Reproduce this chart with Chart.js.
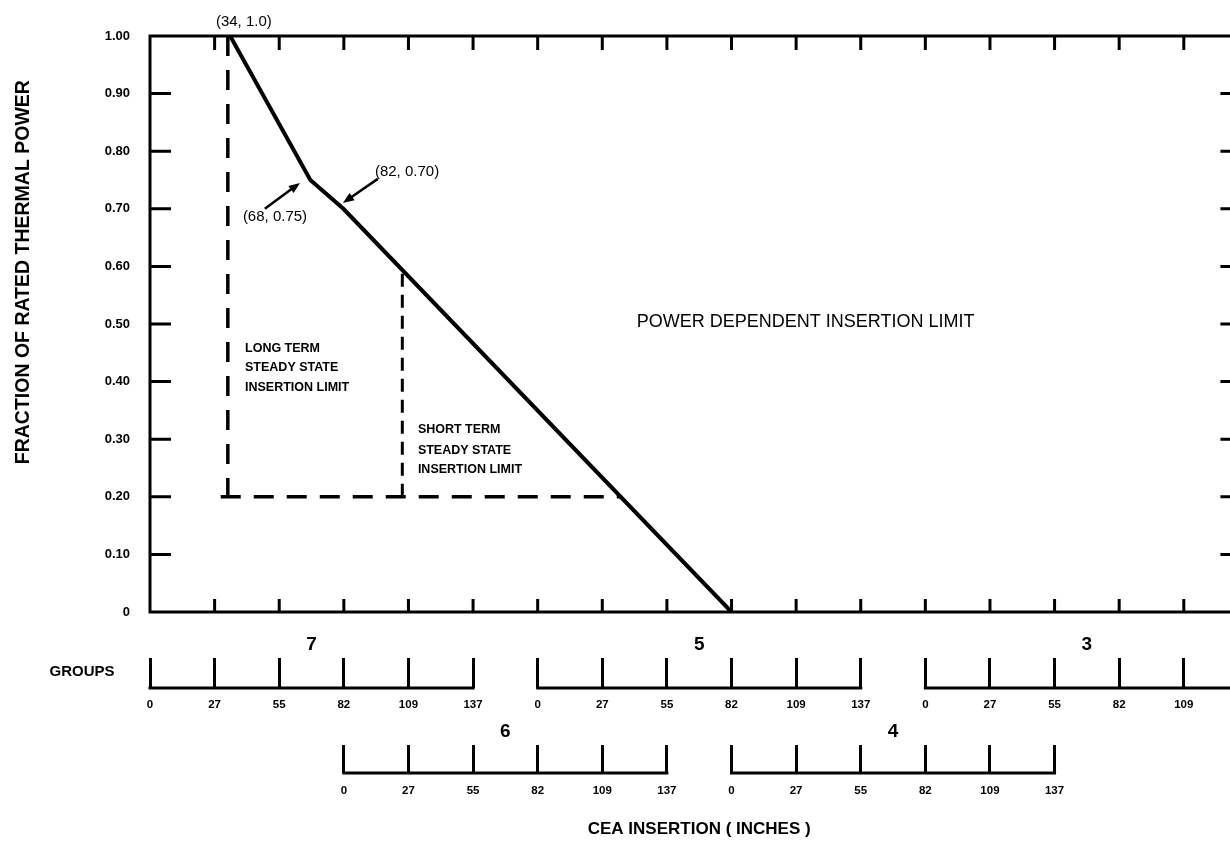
<!DOCTYPE html>
<html>
<head>
<meta charset="utf-8">
<script src="https://cdn.jsdelivr.net/npm/chart.js@4.4.1/dist/chart.umd.min.js"></script>
<style>
    html, body { margin: 0; padding: 0; background: #fff; overflow: hidden; }
    #wrap { width: 1268px; height: 848px; }
</style>
</head>
<body>
<div id="wrap"><canvas id="pdilChart"></canvas></div>
<script>
// Power dependent insertion limit, x in group 7 inches
const pdilX = [34, 68, 82, 246.6];
const pdilY = [1.0, 0.75, 0.70, 0];

// Long term steady state insertion limit (vertical dashed)
const longTermX = [33, 33];
const longTermY = [1.0, 0.2];

// Short term steady state insertion limit (vertical dashed)
const shortTermX = [107, 107];
const shortTermY = [0.2, 0.594];

// 20% power line (horizontal dashed)
const floorX = [30, 199.6];
const floorY = [0.2, 0.2];

// Main axis ticks
const xTickValues = [0, 27.4, 54.8, 82.2, 109.6, 137, 164.4, 191.8, 219.2, 246.6,
                     274, 301.4, 328.8, 356.2, 383.6, 411, 438.4, 465.8];
const yTickValues = [0, 0.1, 0.2, 0.3, 0.4, 0.5, 0.6, 0.7, 0.8, 0.9, 1.0];
const yTickLabels = ['0', '0.10', '0.20', '0.30', '0.40', '0.50', '0.60', '0.70', '0.80', '0.90', '1.00'];

// Group scales (each 0-137 inches)
const groupTickValues = [0, 27.4, 54.8, 82.2, 109.6, 137];
const groupTickLabels = ['0', '27', '55', '82', '109', '137'];
const row1Groups = ['7', '5', '3'];
const row1Offsets = [0, 164.4, 328.8];
const row2Groups = ['6', '4'];
const row2Offsets = [82.2, 246.6];

const row1Ticks = row1Offsets.flatMap(o => groupTickValues.map(v => o + v));
const row2Ticks = row2Offsets.flatMap(o => groupTickValues.map(v => o + v));

const FONT = "'Liberation Sans', Arial, Helvetica, sans-serif";

function toPoints(xs, ys) {
    return xs.map((x, i) => ({ x: x, y: ys[i] }));
}

// Text notes, placed in data units
const notes = [
    { text: '(34, 1.0)', x: 39.8, y: 1.024, font: '15px ' + FONT, align: 'center' },
    { text: '(68, 0.75)', x: 53, y: 0.686, font: '15px ' + FONT, align: 'center' },
    { text: '(82, 0.70)', x: 109, y: 0.764, font: '15px ' + FONT, align: 'center' },
    { text: 'POWER DEPENDENT INSERTION LIMIT', x: 278, y: 0.503, font: '18px ' + FONT, align: 'center' },
    { text: 'LONG TERM', x: 40.3, y: 0.458, font: 'bold 12.5px ' + FONT, align: 'left' },
    { text: 'STEADY STATE', x: 40.3, y: 0.424, font: 'bold 12.5px ' + FONT, align: 'left' },
    { text: 'INSERTION LIMIT', x: 40.3, y: 0.389, font: 'bold 12.5px ' + FONT, align: 'left' },
    { text: 'SHORT TERM', x: 113.6, y: 0.316, font: 'bold 12.5px ' + FONT, align: 'left' },
    { text: 'STEADY STATE', x: 113.6, y: 0.281, font: 'bold 12.5px ' + FONT, align: 'left' },
    { text: 'INSERTION LIMIT', x: 113.6, y: 0.247, font: 'bold 12.5px ' + FONT, align: 'left' }
];

// Arrows from label to break point: [tailX, tailY, tipX, tipY]
const arrows = [
    [48.7, 0.70, 63.6, 0.745],
    [96.6, 0.752, 81.8, 0.71]
];

const frameAndNotes = {
    id: 'frameAndNotes',
    afterDraw(chart) {
        const ctx = chart.ctx;
        const a = chart.chartArea;
        const xs = chart.scales.x;
        const ys = chart.scales.y;
        ctx.save();
        ctx.strokeStyle = '#000';
        ctx.fillStyle = '#000';
        ctx.lineWidth = 3;
        ctx.lineCap = 'butt';
        ctx.strokeRect(a.left, a.top, a.right - a.left, a.bottom - a.top);

        // inward tick marks
        ctx.beginPath();
        xs.ticks.forEach(t => {
            if (t.value <= xs.min || t.value >= xs.max) return;
            const px = xs.getPixelForValue(t.value);
            ctx.moveTo(px, a.bottom); ctx.lineTo(px, a.bottom - 13);
            ctx.moveTo(px, a.top); ctx.lineTo(px, a.top + 14);
        });
        ys.ticks.forEach(t => {
            if (t.value <= ys.min || t.value >= ys.max) return;
            const py = ys.getPixelForValue(t.value);
            ctx.moveTo(a.left, py); ctx.lineTo(a.left + 21, py);
            ctx.moveTo(a.right, py); ctx.lineTo(a.right - 28, py);
        });
        ctx.stroke();

        // y axis title (sits above the middle of the plot in the original)
        ctx.save();
        ctx.translate(24, ys.getPixelForValue(0.59));
        ctx.rotate(-Math.PI / 2);
        ctx.font = 'bold 19.5px ' + FONT;
        ctx.textAlign = 'center';
        ctx.textBaseline = 'middle';
        ctx.fillText('FRACTION OF RATED THERMAL POWER', 0, 0);
        ctx.restore();

        // group brackets
        [['g1', row1Offsets, row1Groups], ['g2', row2Offsets, row2Groups]].forEach(([id, offs, names]) => {
            const s = chart.scales[id];
            const base = s.top + s.options.grid.tickLength;
            offs.forEach((o, i) => {
                const x0 = s.getPixelForValue(o);
                const x1 = s.getPixelForValue(o + 137);
                ctx.beginPath();
                ctx.moveTo(x0 - 1.5, base);
                ctx.lineTo(x1 + 1.5, base);
                ctx.stroke();
                ctx.font = 'bold 19px ' + FONT;
                ctx.textAlign = 'center';
                ctx.textBaseline = 'middle';
                ctx.fillText(names[i], s.getPixelForValue(o + 68.5), s.top - 13);
            });
        });
        const g1 = chart.scales.g1;
        ctx.font = 'bold 15px ' + FONT;
        ctx.textAlign = 'center';
        ctx.textBaseline = 'middle';
        ctx.fillText('GROUPS', 82, g1.top + 14);

        // notes
        notes.forEach(n => {
            ctx.font = n.font;
            ctx.textAlign = n.align;
            ctx.textBaseline = 'middle';
            ctx.fillText(n.text, xs.getPixelForValue(n.x), ys.getPixelForValue(n.y));
        });

        // arrows
        ctx.lineWidth = 2.5;
        arrows.forEach(([x0, y0, x1, y1]) => {
            const px0 = xs.getPixelForValue(x0), py0 = ys.getPixelForValue(y0);
            const px1 = xs.getPixelForValue(x1), py1 = ys.getPixelForValue(y1);
            const ang = Math.atan2(py1 - py0, px1 - px0);
            const head = 12;
            ctx.beginPath();
            ctx.moveTo(px0, py0);
            ctx.lineTo(px1 - Math.cos(ang) * head * 0.8, py1 - Math.sin(ang) * head * 0.8);
            ctx.stroke();
            ctx.beginPath();
            ctx.moveTo(px1, py1);
            ctx.lineTo(px1 - head * Math.cos(ang - 0.38), py1 - head * Math.sin(ang - 0.38));
            ctx.lineTo(px1 - head * Math.cos(ang + 0.38), py1 - head * Math.sin(ang + 0.38));
            ctx.closePath();
            ctx.fill();
        });
        ctx.restore();
    }
};

const ctx = document.getElementById('pdilChart').getContext('2d');
const pdilChart = new Chart(ctx, {
    type: 'line',
    data: {
        datasets: [
            {
                label: 'Power Dependent Insertion Limit',
                data: toPoints(pdilX, pdilY),
                borderColor: '#000',
                borderWidth: 4,
                pointRadius: 0
            },
            {
                label: 'Long Term Steady State Insertion Limit',
                data: toPoints(longTermX, longTermY),
                borderColor: '#000',
                borderWidth: 3.5,
                borderDash: [20, 14],
                pointRadius: 0
            },
            {
                label: 'Short Term Steady State Insertion Limit',
                data: toPoints(shortTermX, shortTermY),
                borderColor: '#000',
                borderWidth: 3,
                borderDash: [13, 8],
                pointRadius: 0
            },
            {
                label: '20% Power',
                data: toPoints(floorX, floorY),
                borderColor: '#000',
                borderWidth: 3.5,
                borderDash: [20, 13],
                pointRadius: 0
            }
        ]
    },
    options: {
        responsive: true,
        maintainAspectRatio: false,
        animation: false,
        layout: { padding: { top: 36, right: 16, bottom: 0, left: 0 } },
        plugins: {
            legend: { display: false },
            tooltip: { enabled: false }
        },
        scales: {
            x: {
                type: 'linear',
                position: 'bottom',
                min: 0,
                max: 465.8,
                afterBuildTicks: s => { s.ticks = xTickValues.map(v => ({ value: v })); },
                ticks: { display: false },
                grid: { display: false },
                border: { display: false },
                afterFit: s => { s.height = 46; }
            },
            g1: {
                type: 'linear',
                position: 'bottom',
                min: 0,
                max: 465.8,
                afterBuildTicks: s => { s.ticks = row1Ticks.map(v => ({ value: v })); },
                ticks: {
                    autoSkip: false,
                    maxRotation: 0,
                    padding: 10,
                    color: '#000',
                    font: { family: FONT, size: 11.5, weight: 'bold' },
                    callback: (v, i) => groupTickLabels[i % 6]
                },
                grid: { drawOnChartArea: false, drawTicks: true, tickLength: 30, lineWidth: 3, color: '#000' },
                border: { display: false },
                afterFit: s => { s.height = 87; }
            },
            g2: {
                type: 'linear',
                position: 'bottom',
                min: 0,
                max: 465.8,
                afterBuildTicks: s => { s.ticks = row2Ticks.map(v => ({ value: v })); },
                ticks: {
                    autoSkip: false,
                    maxRotation: 0,
                    padding: 11,
                    color: '#000',
                    font: { family: FONT, size: 11.5, weight: 'bold' },
                    callback: (v, i) => groupTickLabels[i % 6]
                },
                grid: { drawOnChartArea: false, drawTicks: true, tickLength: 28, lineWidth: 3, color: '#000' },
                border: { display: false },
                title: {
                    display: true,
                    text: 'CEA INSERTION ( INCHES )',
                    color: '#000',
                    font: { family: FONT, size: 17, weight: 'bold' },
                    padding: { top: 0, bottom: 8 }
                },
                afterFit: s => { s.height = 103; }
            },
            y: {
                type: 'linear',
                min: 0,
                max: 1,
                afterBuildTicks: s => { s.ticks = yTickValues.map(v => ({ value: v })); },
                ticks: {
                    padding: 12,
                    color: '#000',
                    font: { family: FONT, size: 13, weight: 'bold' },
                    callback: (v, i) => yTickLabels[i]
                },
                grid: { display: false },
                border: { display: false },
                afterFit: s => { s.width = 150; }
            }
        }
    },
    plugins: [frameAndNotes]
});
</script>
</body>
</html>
